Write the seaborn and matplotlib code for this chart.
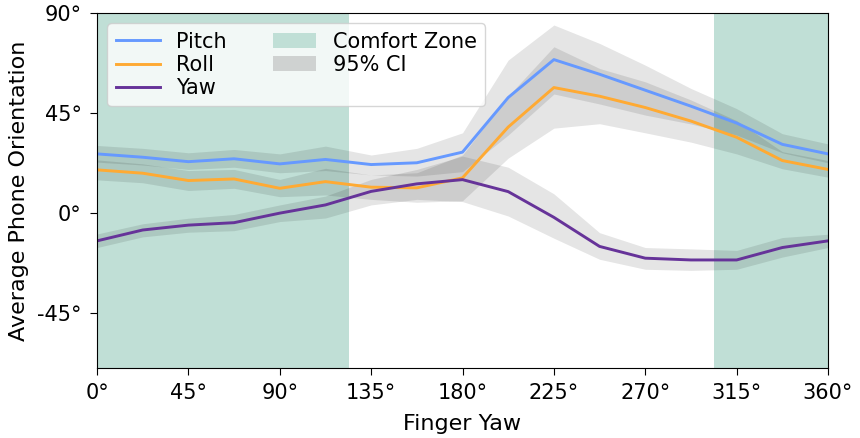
import matplotlib
matplotlib.use("Agg")
import matplotlib.pyplot as plt
from matplotlib.lines import Line2D
from matplotlib.patches import Patch
import numpy as np
import pandas as pd
import seaborn as sns

# Finger yaw sample angles (degrees)
finger_yaw = [0, 22.5, 45, 67.5, 90, 112.5, 135, 157.5, 180,
              202.5, 225, 247.5, 270, 292.5, 315, 337.5, 360]

# Mean phone orientation per finger yaw
pitch = [26.5, 25.0, 23.0, 24.3, 22.0, 24.0, 21.7, 22.5, 27.3,
         51.9, 69.0, 62.4, 55.2, 48.0, 40.4, 30.8, 26.5]
roll = [19.3, 17.8, 14.5, 15.2, 11.0, 14.0, 11.5, 11.2, 15.7,
        38.6, 56.4, 52.5, 47.4, 41.3, 34.0, 23.5, 19.5]
yaw = [-12.7, -7.8, -5.6, -4.5, -0.2, 3.5, 9.6, 13.0, 14.9,
       9.5, -2.1, -15.2, -20.5, -21.3, -21.3, -15.7, -12.7]

# 95% confidence intervals
pitch_lo = [22.8, 21.5, 19.5, 20.5, 18.0, 19.0, 17.0, 16.5, 18.5,
            35.0, 53.5, 49.0, 44.0, 40.0, 35.0, 27.0, 22.5]
pitch_hi = [30.3, 29.0, 27.0, 28.5, 26.5, 30.0, 26.0, 29.0, 36.0,
            68.8, 84.6, 76.3, 66.5, 56.0, 46.9, 35.6, 31.0]
roll_lo = [14.8, 13.5, 10.0, 11.0, 7.2, 8.0, 6.0, 4.7, 5.4,
           24.6, 38.1, 40.1, 36.0, 31.8, 26.5, 19.8, 16.0]
roll_hi = [23.8, 22.0, 19.0, 19.5, 15.0, 20.0, 17.0, 18.0, 26.0,
           52.6, 74.8, 65.0, 59.0, 50.8, 41.5, 27.5, 23.5]
yaw_lo = [-15.7, -10.9, -8.8, -8.1, -4.0, -2.4, 3.5, 6.0, 5.0,
          -1.5, -11.5, -21.0, -25.5, -26.0, -25.5, -20.0, -15.7]
yaw_hi = [-9.6, -5.0, -2.5, -0.8, 3.5, 7.5, 15.0, 19.5, 25.5,
          20.5, 8.5, -9.0, -15.7, -16.3, -17.0, -11.2, -9.7]

# Comfort zones along the finger yaw axis
comfort_zones = [(0, 124), (304, 360)]

series_names = ["Pitch", "Roll", "Yaw"]
series_colors = ["#6699ff", "#ffaa33", "#663399"]

x_ticks = [0, 45, 90, 135, 180, 225, 270, 315, 360]
x_tick_labels = ["0°", "45°", "90°", "135°", "180°", "225°", "270°", "315°", "360°"]
y_ticks = [90, 45, 0, -45]
y_tick_labels = ["90°", "45°", "0°", "-45°"]

df = pd.DataFrame({
    "Finger Yaw": finger_yaw * 3,
    "Orientation": pitch + roll + yaw,
    "Axis": [n for n in series_names for _ in finger_yaw],
})

zone_color = "#c0dfd6"
ci_color = "#000000"

fig, ax = plt.subplots(figsize=(8.6, 4.38), dpi=100)
fig.subplots_adjust(left=0.1128, right=0.9628, top=0.9703, bottom=0.1598)

for start, end in comfort_zones:
    ax.axvspan(start, end, color=zone_color, lw=0, zorder=0)

for lo, hi in [(pitch_lo, pitch_hi), (roll_lo, roll_hi), (yaw_lo, yaw_hi)]:
    ax.fill_between(finger_yaw, lo, hi, color=ci_color, alpha=0.1, lw=0, zorder=1)

sns.lineplot(data=df, x="Finger Yaw", y="Orientation", hue="Axis",
             hue_order=series_names, palette=series_colors,
             errorbar=None, lw=2.1, legend=False, ax=ax, zorder=2)

ax.set_xlim(0, 360)
ax.set_ylim(-70, 90)
ax.set_xticks(x_ticks)
ax.set_xticklabels(x_tick_labels)
ax.set_yticks(y_ticks)
ax.set_yticklabels(y_tick_labels)
ax.tick_params(labelsize=15, colors="black", length=5, pad=6)
ax.set_xlabel("Finger Yaw", fontsize=16, labelpad=7.5)
ax.set_ylabel("Average Phone Orientation", fontsize=16, labelpad=6)
for sp in ax.spines.values():
    sp.set_color("black")

handles = [Line2D([], [], color=c, lw=2.1) for c in series_colors]
handles += [Patch(facecolor=zone_color), Patch(facecolor="#cfd2d1")]
labels = series_names + ["Comfort Zone", "95% CI"]
ax.legend(handles, labels, loc="upper left", ncol=2, fontsize=15,
          labelspacing=0.15, columnspacing=2.2, handlelength=2.1,
          framealpha=0.8)

fig.savefig("out.png", dpi=100)
